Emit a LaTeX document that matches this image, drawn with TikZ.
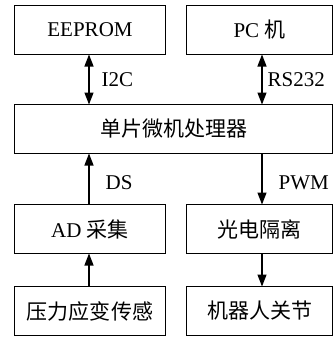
\documentclass[tikz,border=0pt]{standalone}
\usepackage{fontspec}
\setmainfont{Liberation Serif}
\newfontfamily\cjk{Noto Sans CJK SC}
\usetikzlibrary{arrows.meta,positioning}

\begin{document}
\begin{tikzpicture}[x=1pt,y=1pt,>={Triangle[length=12pt,width=9pt]},line width=1.3pt,
	box/.style={draw,minimum height=49pt,inner sep=0pt,outer sep=0pt,font=\fontsize{21}{25}\selectfont},
	lbox/.style={box,minimum width=151pt},
	rbox/.style={box,minimum width=146pt},
	sig/.style={font=\fontsize{21}{25}\selectfont,inner sep=0pt}]
\useasboundingbox (0,0) rectangle (335,-337);

\node	[box,minimum width=318pt]	(mcu)	at (173.5,-129)	{\cjk 单片微机处理器};
\node	[lbox]	(eeprom)	[above right=50pt and 0pt of mcu.north west]	{EEPROM};
\node	[rbox]	(pc)		[above left=50pt and 0pt of mcu.north east]		{PC {\cjk 机}};
\node	[lbox]	(ad)		[below right=51pt and 0pt of mcu.south west]	{AD {\cjk 采集}};
\node	[rbox]	(opto)		[below left=51pt and 0pt of mcu.south east]		{\cjk 光电隔离};
\node	[lbox]	(sensor)	[below=33pt of ad]		{\cjk 压力应变传感};
\node	[rbox]	(joint)		[below=33pt of opto]	{\cjk 机器人关节};

\coordinate (lx) at ([xshift=-1pt]eeprom.south);
\coordinate (rx) at ([xshift=2.5pt]pc.south);

\draw	[<->]	(lx)	--	node	[sig,right=12pt]	{I2C}	(lx |- mcu.north);
\draw	[<->]	(rx)	--	node	[sig,right=5pt]		{RS232}	(rx |- mcu.north);
\draw	[->]	(lx |- ad.north)	--	node	[sig,pos=0.425,right=16pt]	{DS}	(lx |- mcu.south);
\draw	[->]	(rx |- mcu.south)	--	node	[sig,pos=0.575,right=16pt]	{PWM}	(rx |- opto.north);
\draw	[->]	(lx |- sensor.north)	--	(lx |- ad.south);
\draw	[->]	(rx |- opto.south)	--	(rx |- joint.north);
\end{tikzpicture}
\end{document}
